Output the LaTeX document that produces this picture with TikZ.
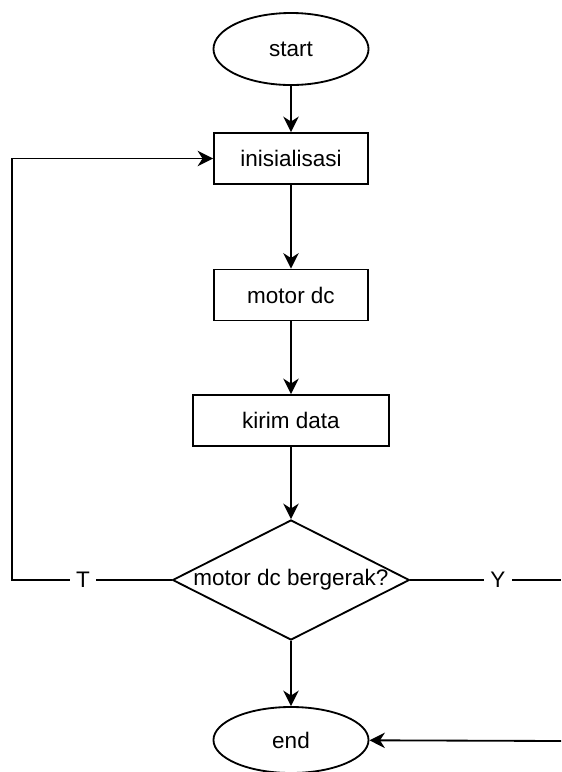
\documentclass[tikz,border=0pt]{standalone}
\usepackage{fontspec}
\setmainfont{Liberation Sans}
\usetikzlibrary{shapes}
\usetikzlibrary{arrows.meta}

\tikzset{
  terminal/.style={ellipse, draw, inner sep=0pt,
                   minimum width=3.875cm, minimum height=1.8cm},
  proses/.style={rectangle, draw, minimum width=3.85cm, minimum height=1.275cm},
  keputusan/.style={diamond, draw, aspect=2, inner sep=0pt,
                    minimum width=5.9cm, minimum height=3cm},
  panah/.style={-{Stealth[length=11pt, width=11pt, inset=3.5pt]}},
  cabang/.style={fill=white, inner sep=4pt}
}

\begin{document}
\begin{tikzpicture}[x=0.025cm, y=-0.025cm, line width=1.3pt,
                    font=\fontsize{16}{19}\selectfont]
  \useasboundingbox (0,0) rectangle (561,772);

  \node[terminal] (start) at (291, 49) {start};
  \node[proses] (inisialisasi) at (291, 158.5) {inisialisasi};
  \node[proses] (motor) at (291, 295) {motor dc};
  \node[proses, minimum width=4.9cm] (kirim) at (291, 420.5) {kirim data};
  \node[keputusan] (gerak) at (291, 580) {motor dc bergerak?};
  \node[terminal, minimum height=1.65cm] (end) at (291, 740) {end};

  % label cabang
  \node[cabang] (T) at (83, 580) {T};
  \node[cabang] (Y) at (498, 580) {Y};
  \coordinate (kiri) at (12, 580);
  \coordinate (kanan) at (561, 580);
  \coordinate (kananbawah) at (561, 741);

  \draw[panah] (start) -- (inisialisasi);
  \draw[panah] (inisialisasi) -- (motor);
  \draw[panah] (motor) -- (kirim);
  \draw[panah] (kirim) -- (gerak);
  \draw[panah] (gerak) -- (end);

  \draw (gerak.west) -- (T);
  \draw[panah] (T) -- (kiri) |- (inisialisasi);
  \draw (gerak.east) -- (Y);
  \draw (Y) -- (kanan);
  \draw[panah] (kananbawah) -- (end);
\end{tikzpicture}
\end{document}
